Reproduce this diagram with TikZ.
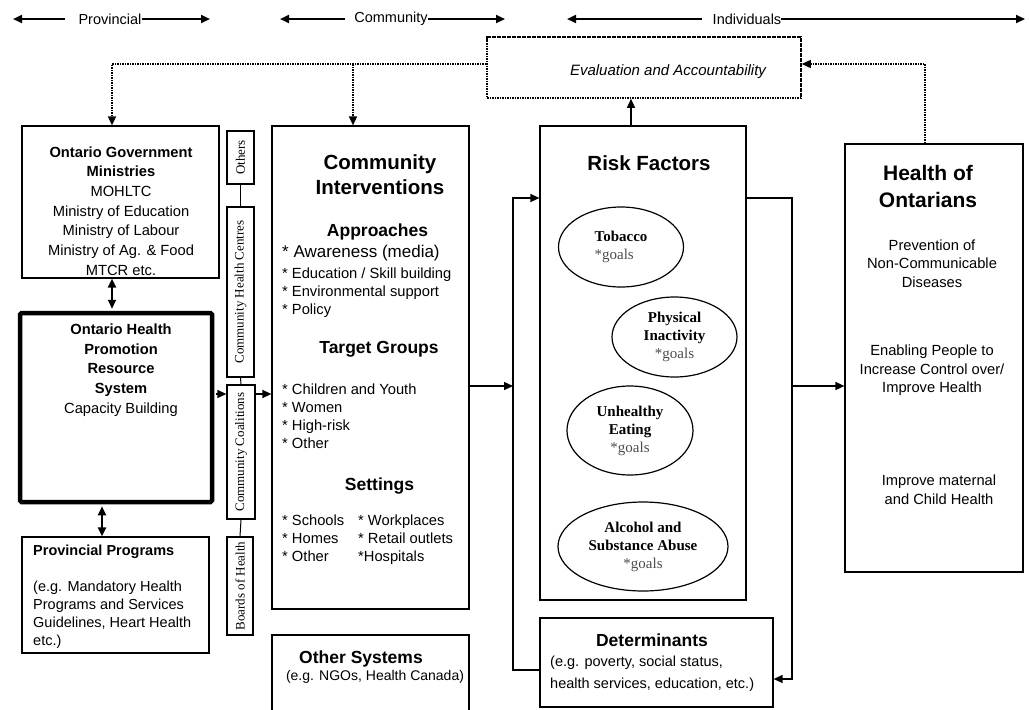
\documentclass[tikz,border=0pt]{standalone}
\usepackage{fontspec}
\setmainfont{Liberation Sans}
\newfontfamily\tnr{Liberation Serif}
\usetikzlibrary{arrows.meta,shapes.geometric,fit}
\newcommand\fsz[2]{\fontsize{#1}{#2}\selectfont}
\newcommand\rfgoal{{\mdseries\color{black!70}*goals}}

\begin{document}
\begin{tikzpicture}[x=1pt,y=-1pt,>={Triangle[length=9pt,width=8pt]},
    box/.style={draw,line width=1.2pt,inner sep=0pt},
    vbox/.style={draw,line width=1.2pt,inner sep=0pt,rotate=90,font=\tnr\fsz{13}{15}},
    oval/.style={ellipse,draw,line width=1.2pt,inner sep=0pt,align=center,font=\tnr\bfseries\fsz{15}{18}},
    txt/.style={inner sep=0pt,align=center,font=\fsz{14.7}{19.7}},
    head/.style={inner sep=0pt,font=\fsz{14.5}{17}},
    conn/.style={line width=1.4pt},
    dot/.style={line width=1.6pt,dash pattern=on 1.6pt off 0.9pt},
    hdr/.style={line width=2.2pt}]

    \useasboundingbox (0,0) rectangle (1029,710);

    % scale along the top
    \node[head] (prov) at (110,19) {Provincial};
    \node[head] (comm) at (391,19) {Community};
    \node[head] (indiv) at (747,19) {Individuals};
    \coordinate (provL) at (13,19);  \coordinate (provR) at (210,19);
    \coordinate (commL) at (280,19); \coordinate (commR) at (505,19);
    \coordinate (indL) at (567,19);  \coordinate (indR) at (1025,19);
    \draw[hdr,->] ([xshift=-13pt]prov.west) -- (provL);
    \draw[hdr,->] (prov.east) -- (provR);
    \draw[hdr,->] ([xshift=-9pt]comm.west) -- (commL);
    \draw[hdr,->] (comm.east) -- (commR);
    \draw[hdr,->] ([xshift=-11pt]indiv.west) -- (indL);
    \draw[hdr,->] (indiv.east) -- (indR);

    % boxes
    \node[box,dot,fit={(487,37)(801,98)}] (eval) {};
    \node[txt,font=\itshape\fsz{15}{18}] (evaltxt) at (668,72) {Evaluation and Accountability};

    \node[box,fit={(22,126)(219,278)}] (gov) {};
    \node[box,line width=4.5pt,rounded corners=1.5pt,fit={(20,313)(212,502)}] (ohprs) {};
    \node[box,fit={(22,537)(209,653)}] (prog) {};
    \node[box,fit={(272,126)(469,609)}] (ci) {};
    \node[box,fit={(540,126)(746,600)}] (risk) {};
    \node[box,fit={(540,618)(773,707)}] (det) {};
    \node[box,fit={(845,144)(1023,572)}] (health) {};
    \draw[box] (272,712) |- (469,635) -- (469,712);

    % left column
    \node[txt] (govtxt) at (121,211) {\textbf{Ontario Government}\\\textbf{Ministries}\\MOHLTC\\Ministry of Education\\Ministry of Labour\\Ministry of Ag. \& Food\\MTCR etc.};
    \node[txt] (ohprstxt) at (121,370) {\textbf{Ontario Health}\\\textbf{Promotion}\\\textbf{Resource}\\\textbf{System}\\Capacity Building};
    \node[txt,align=left,anchor=west,font=\fsz{14.5}{18}] (progtxt) at (33,597) {\textbf{Provincial Programs}\\[18pt](e.g. Mandatory Health\\Programs and Services\\Guidelines, Heart Health\\etc.)};

    % community partners
    \node[vbox,minimum width=53pt,minimum height=27pt] (others) at (240.5,157.5) {Others};
    \node[vbox,minimum width=170pt,minimum height=27pt] (chc) at (240.5,292) {Community Health Centres};
    \node[vbox,minimum width=134pt,minimum height=28pt] (coal) at (241,452) {Community Coalitions};
    \node[vbox,minimum width=98pt,minimum height=26pt] (boh) at (240,586) {Boards of Health};
    \draw[line width=1pt] (others.west) -- (chc.east);
    \draw[line width=1pt] (chc.west) -- (coal.east);
    \draw[line width=1pt] (coal.west) -- (boh.east);

    % community interventions
    \node[txt,font=\bfseries\fsz{20.5}{25}] (citl) at (380,174.5) {Community\\Interventions};
    \node[txt,font=\bfseries\fsz{17.5}{21}] (appr) at (377.5,232) {Approaches};
    \node[txt,anchor=west,font=\fsz{17}{20}] (aware) at (282,253) {* Awareness (media)};
    \node[txt,align=left,anchor=west,font=\fsz{14.7}{18}] (apprl) at (282,293) {* Education / Skill building\\* Environmental support\\* Policy};
    \node[txt,font=\bfseries\fsz{17.5}{21}] (tgt) at (379,349) {Target Groups};
    \node[txt,align=left,anchor=west,font=\fsz{14.7}{18}] (tgtl) at (282,416) {* Children and Youth\\* Women\\* High-risk\\* Other};
    \node[txt,font=\bfseries\fsz{17.5}{21}] (sett) at (379.5,486) {Settings};
    \node[txt,align=left,anchor=west,font=\fsz{14.7}{18}] (settl) at (282,540) {\makebox[76pt][l]{* Schools}* Workplaces\\\makebox[76pt][l]{* Homes}* Retail outlets\\\makebox[76pt][l]{* Other}*Hospitals};
    \node[txt,font=\bfseries\fsz{17.5}{21}] (ostl) at (361,659) {Other Systems};
    \node[txt,font=\fsz{14}{17}] (osl) at (375,677) {(e.g. NGOs, Health Canada)};

    % risk factors
    \node[txt,font=\bfseries\fsz{20.5}{25}] (rftl) at (649,163) {Risk Factors};
    \node[oval,align=left,minimum width=125pt,minimum height=80pt] (tob) at (621,247) {Tobacco\\\rfgoal};
    \node[oval,minimum width=125pt,minimum height=80pt] (phys) at (674.5,337) {Physical\\Inactivity\\\rfgoal};
    \node[oval,minimum width=126pt,minimum height=89pt] (eat) at (630,430.5) {Unhealthy\\Eating\\\rfgoal};
    \node[oval,minimum width=170pt,minimum height=89pt] (alc) at (643,546.5) {Alcohol and\\Substance Abuse\\\rfgoal};

    \node[txt,font=\bfseries\fsz{17.5}{21}] (dettl) at (652,640) {Determinants};
    \node[txt,align=left,anchor=west,font=\fsz{14.5}{22}] (detl) at (550,674) {(e.g. poverty, social status,\\health services, education, etc.)};

    % health of ontarians
    \node[txt,font=\bfseries\fsz{21}{27}] (hotl) at (928,186.5) {Health of\\Ontarians};
    \node[txt,font=\fsz{14.7}{18.5}] (ho1) at (932,263.5) {Prevention of\\Non-Communicable\\Diseases};
    \node[txt,font=\fsz{14.7}{18.5}] (ho2) at (932,370.5) {Enabling People to\\Increase Control over/\\Improve Health};
    \node[txt,font=\fsz{14.7}{18.5}] (ho3) at (939,489.5) {Improve maternal\\and Child Health};

    % evaluation loop
    \coordinate (evl) at ([yshift=3.5pt]eval.west);
    \coordinate (evr) at ([yshift=3.5pt]eval.east);
    \draw[dot,->] (evl) -| (112,0 |- gov.north);
    \draw[dot,->] (353,0 |- evl) -- (353,0 |- ci.north);
    \draw[dot,->] (925,0 |- health.north) |- (evr);
    \draw[conn,->] (631,0 |- risk.north) -- (631,0 |- eval.south);

    % provincial links
    \draw[hdr,<->,shorten >=2pt] (112,0 |- gov.south) -- (112,0 |- ohprs.north);
    \draw[hdr,<->,shorten <=2pt] (102,0 |- ohprs.south) -- (102,0 |- prog.north);
    \draw[conn,->,shorten <=2pt] (ohprs.east |- 0,394) -- (coal.north |- 0,394);
    \draw[conn,->] (coal.south |- 0,394) -- (ci.west |- 0,394);

    % flows to risk factors and health
    \coordinate (lpT) at (513,198); \coordinate (lpM) at (513,386); \coordinate (lpB) at (513,670);
    \coordinate (rpT) at (792,198); \coordinate (rpM) at (792,386); \coordinate (rpB) at (792,679);
    \draw[conn,->] (det.west |- lpB) -- (lpB) -- (lpT) -- (risk.west |- lpT);
    \draw[conn,->] (ci.east |- lpM) -- (lpM);
    \draw[conn,->] (risk.east |- rpT) -- (rpT) -- (rpB) -- (det.east |- rpB);
    \draw[conn,->] (rpM) -- (health.west |- rpM);
\end{tikzpicture}
\end{document}
